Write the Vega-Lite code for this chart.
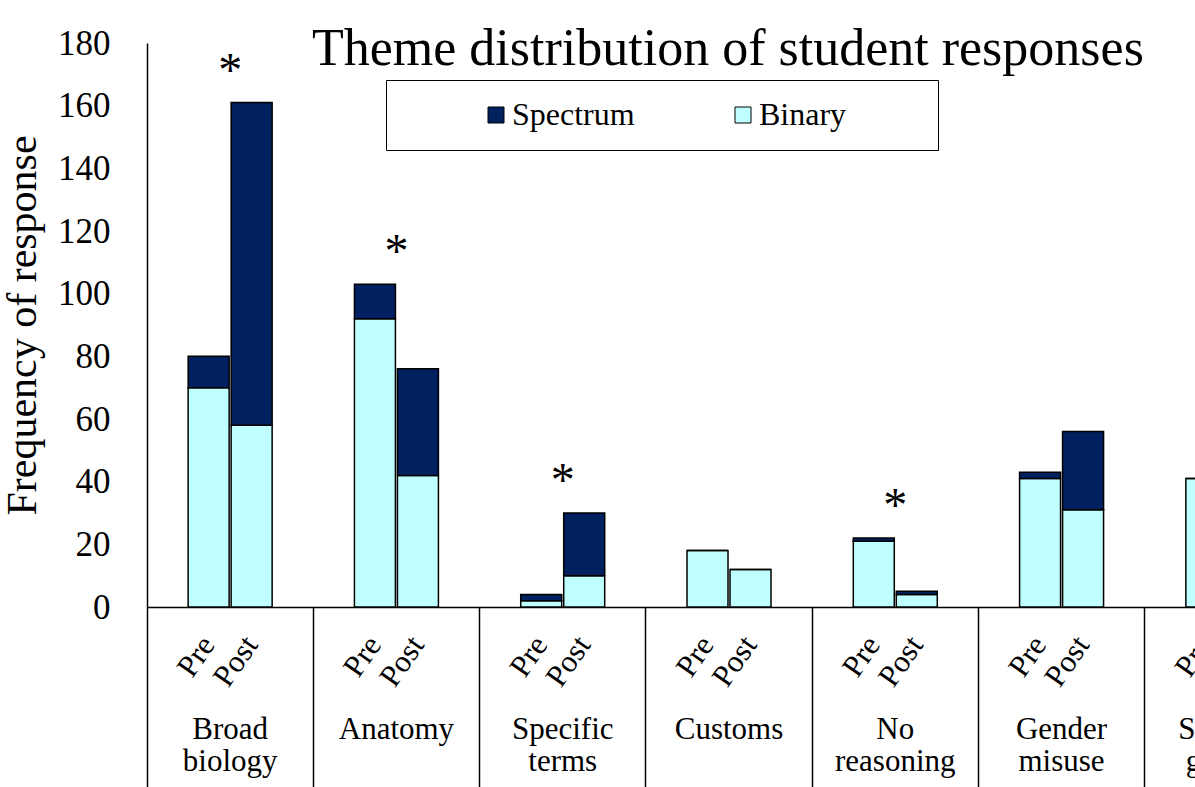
{
  "$schema": "https://vega.github.io/schema/vega-lite/v6.json",
  "width": 1048,
  "height": 564,
  "autosize": {"type": "none"},
  "padding": {"left": 147, "top": 43, "right": 0, "bottom": 180},
  "background": "white",
  "config": {"view": {"stroke": null}, "font": "Liberation Serif"},
  "title": {
    "text": "Theme distribution of student responses",
    "font": "Liberation Serif",
    "fontSize": 52,
    "fontWeight": "normal",
    "color": "black",
    "anchor": "start",
    "frame": "group",
    "baseline": "alphabetic",
    "offset": 0,
    "dx": 165,
    "dy": 91
  },
  "data": {
    "values": [
      {"category": "Broad biology", "time": "Pre", "type": "Binary", "count": 70, "sig": "*"},
      {"category": "Broad biology", "time": "Pre", "type": "Spectrum", "count": 10, "sig": "*"},
      {"category": "Broad biology", "time": "Post", "type": "Binary", "count": 58, "sig": "*"},
      {"category": "Broad biology", "time": "Post", "type": "Spectrum", "count": 103, "sig": "*"},
      {"category": "Anatomy", "time": "Pre", "type": "Binary", "count": 92, "sig": "*"},
      {"category": "Anatomy", "time": "Pre", "type": "Spectrum", "count": 11, "sig": "*"},
      {"category": "Anatomy", "time": "Post", "type": "Binary", "count": 42, "sig": "*"},
      {"category": "Anatomy", "time": "Post", "type": "Spectrum", "count": 34, "sig": "*"},
      {"category": "Specific terms", "time": "Pre", "type": "Binary", "count": 2, "sig": "*"},
      {"category": "Specific terms", "time": "Pre", "type": "Spectrum", "count": 2, "sig": "*"},
      {"category": "Specific terms", "time": "Post", "type": "Binary", "count": 10, "sig": "*"},
      {"category": "Specific terms", "time": "Post", "type": "Spectrum", "count": 20, "sig": "*"},
      {"category": "Customs", "time": "Pre", "type": "Binary", "count": 18, "sig": ""},
      {"category": "Customs", "time": "Pre", "type": "Spectrum", "count": 0, "sig": ""},
      {"category": "Customs", "time": "Post", "type": "Binary", "count": 12, "sig": ""},
      {"category": "Customs", "time": "Post", "type": "Spectrum", "count": 0, "sig": ""},
      {"category": "No reasoning", "time": "Pre", "type": "Binary", "count": 21, "sig": "*"},
      {"category": "No reasoning", "time": "Pre", "type": "Spectrum", "count": 1, "sig": "*"},
      {"category": "No reasoning", "time": "Post", "type": "Binary", "count": 4, "sig": "*"},
      {"category": "No reasoning", "time": "Post", "type": "Spectrum", "count": 1, "sig": "*"},
      {"category": "Gender misuse", "time": "Pre", "type": "Binary", "count": 41, "sig": ""},
      {"category": "Gender misuse", "time": "Pre", "type": "Spectrum", "count": 2, "sig": ""},
      {"category": "Gender misuse", "time": "Post", "type": "Binary", "count": 31, "sig": ""},
      {"category": "Gender misuse", "time": "Post", "type": "Spectrum", "count": 25, "sig": ""},
      {"category": "Sex and gender", "time": "Pre", "type": "Binary", "count": 41, "sig": ""},
      {"category": "Sex and gender", "time": "Pre", "type": "Spectrum", "count": 0, "sig": ""},
      {"category": "Sex and gender", "time": "Post", "type": "Binary", "count": null, "sig": ""},
      {"category": "Sex and gender", "time": "Post", "type": "Spectrum", "count": null, "sig": ""}
    ]
  },
  "resolve": {"axis": {"x": "independent"}},
  "layer": [
    {
      "mark": {"type": "bar", "stroke": "black", "strokeWidth": 1.5},
      "encoding": {
        "x": {
          "field": "category",
          "type": "nominal",
          "sort": ["Broad biology", "Anatomy", "Specific terms", "Customs", "No reasoning", "Gender misuse", "Sex and gender"],
          "scale": {"range": [0, 1164], "paddingInner": 0, "paddingOuter": 0},
          "axis": {
            "orient": "bottom",
            "title": null,
            "labelExpr": "datum.label == 'Sex and gender' ? ['Sex and', 'gender'] : split(datum.label, ' ')",
            "labelAngle": 0,
            "labelFontSize": 31,
            "labelFont": "Liberation Serif",
            "labelColor": "black",
            "labelPadding": 107,
            "labelLineHeight": 32,
            "labelBaseline": "top",
            "labelOverlap": false,
            "labelLimit": 300,
            "ticks": false,
            "tickSize": 0,
            "grid": false,
            "domain": true,
            "domainColor": "black",
            "domainWidth": 1.5
          }
        },
        "xOffset": {
          "field": "time",
          "type": "nominal",
          "sort": ["Pre", "Post"],
          "scale": {"paddingInner": 0.0465, "paddingOuter": 0.957}
        },
        "y": {
          "field": "count",
          "type": "quantitative",
          "stack": "zero",
          "scale": {"domain": [0, 180]},
          "axis": {
            "title": "Frequency of response",
            "titleFont": "Liberation Serif",
            "titleFontSize": 42,
            "titleFontWeight": "normal",
            "titleColor": "black",
            "titlePadding": 13,
            "values": [0, 20, 40, 60, 80, 100, 120, 140, 160, 180],
            "labelFont": "Liberation Serif",
            "labelFontSize": 35,
            "labelColor": "black",
            "labelPadding": 37,
            "ticks": false,
            "tickSize": 0,
            "grid": false,
            "domainColor": "black",
            "domainWidth": 1.5
          }
        },
        "color": {
          "field": "type",
          "type": "nominal",
          "scale": {"domain": ["Spectrum", "Binary"], "range": ["#002060", "#C0FFFF"]},
          "legend": {
            "orient": "none",
            "legendX": 239,
            "legendY": 37,
            "direction": "horizontal",
            "title": null,
            "strokeColor": "black",
            "fillColor": "white",
            "padding": 19,
            "symbolType": "square",
            "symbolSize": 256,
            "symbolStrokeColor": "black",
            "symbolStrokeWidth": 1,
            "labelFont": "Liberation Serif",
            "labelFontSize": 32,
            "labelColor": "black",
            "labelOffset": 0,
            "labelLimit": 400,
            "symbolOffset": 75,
            "columnPadding": 17,
            "labelExpr": "datum.label == 'Binary' ? datum.label + '\u00a0\u00a0\u00a0\u00a0\u00a0\u00a0\u00a0\u00a0\u00a0\u200b' : datum.label"
          }
        },
        "order": {"field": "type", "sort": "ascending"}
      }
    },
    {
      "transform": [{"filter": "datum.type == 'Binary'"}],
      "mark": {"type": "text", "angle": 305, "align": "right", "baseline": "middle", "fontSize": 31, "font": "Liberation Serif", "color": "black"},
      "encoding": {
        "x": {
          "field": "category",
          "type": "nominal",
          "sort": ["Broad biology", "Anatomy", "Specific terms", "Customs", "No reasoning", "Gender misuse", "Sex and gender"],
          "axis": {
            "orient": "bottom",
            "title": null,
            "bandPosition": 0,
            "ticks": true,
            "tickSize": 180,
            "tickColor": "black",
            "tickWidth": 1.5,
            "labels": false,
            "domain": false,
            "grid": false
          }
        },
        "xOffset": {"field": "time", "type": "nominal", "sort": ["Pre", "Post"]},
        "y": {"datum": -10.5, "type": "quantitative"},
        "text": {"field": "time"}
      }
    },
    {
      "transform": [
        {"aggregate": [{"op": "sum", "field": "count", "as": "total"}], "groupby": ["category", "time", "sig"]},
        {"aggregate": [{"op": "max", "field": "total", "as": "top"}], "groupby": ["category", "sig"]},
        {"filter": "datum.sig == '*'"}
      ],
      "mark": {"type": "text", "fontSize": 48, "font": "Liberation Serif", "baseline": "alphabetic", "dy": -17, "color": "black"},
      "encoding": {
        "x": {
          "field": "category",
          "type": "nominal",
          "sort": ["Broad biology", "Anatomy", "Specific terms", "Customs", "No reasoning", "Gender misuse", "Sex and gender"],
          "axis": null
        },
        "y": {"field": "top", "type": "quantitative"},
        "text": {"field": "sig"}
      }
    }
  ]
}
